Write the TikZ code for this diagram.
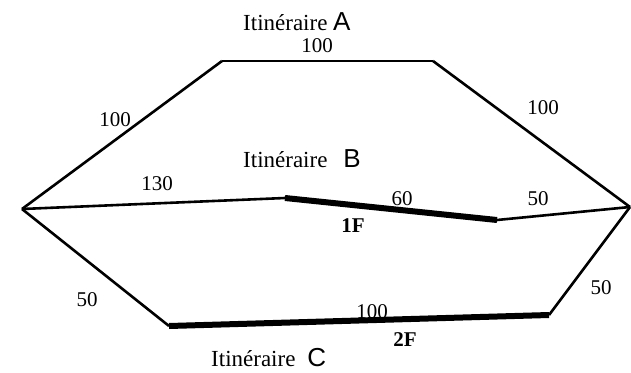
\documentclass[tikz,border=0pt]{standalone}
\usepackage{fontspec}
\setmainfont{Liberation Serif}
\newfontfamily\routefont{Liberation Sans}
\usetikzlibrary{positioning}

\tikzset{
  route/.style={line width=2.6pt},
  fast/.style={line width=6pt},
  dist/.style={font=\fontsize{21}{24}\selectfont, inner sep=0pt, anchor=base},
  penalty/.style={font=\fontsize{21}{24}\selectfont\bfseries, inner sep=0pt, anchor=base},
  itin/.style={font=\fontsize{23}{26}\selectfont, inner sep=0pt, anchor=base west}
}
\newcommand{\routeletter}[1]{{\routefont\fontsize{26}{28}\selectfont #1}}

\begin{document}
\begin{tikzpicture}[x=1pt, y=-1pt]
  \useasboundingbox (0,0) rectangle (631,372);

  % vertices
  \coordinate (L)  at (22,209);
  \coordinate (R)  at (630,207);
  \coordinate (A1) at (222,61);
  \coordinate (A2) at (433,61);
  \coordinate (B1) at (285,198);
  \coordinate (B2) at (497,220);
  \coordinate (C1) at (169,326);
  \coordinate (C2) at (549,315);

  % routes
  \path[route] (L) edge (A1)
               (A1) edge (A2)
               (A2) edge (R)
               (L) edge (B1)
               (B2) edge (R)
               (L) edge (C1)
               (C2) edge (R);
  \path[fast]  (B1) edge (B2)
               (C1) edge (C2);

  % labels
  \node[itin] (nA) at (243,30) {Itinéraire \routeletter{A}};
  \node[itin] (nB) at (243,167) {Itinéraire\hspace{16pt}\routeletter{B}};
  \node[itin] (nC) at (211,366) {Itinéraire\hspace{12pt}\routeletter{C}};

  \node[dist] (dA2) at (317,52) {100};
  \node[dist] (dA1) at (115,126) {100};
  \node[dist] (dA3) at (543,114) {100};
  \node[dist] (dB1) at (157,190) {130};
  \node[dist] (dB2) at (402,205) {60};
  \node[dist] (dB3) at (538,205) {50};
  \node[dist] (dC1) at (87,306) {50};
  \node[dist] (dC2) at (372,318) {100};
  \node[dist] (dC3) at (601,294) {50};

  \node[penalty] (f1) at (353,232) {1F};
  \node[penalty] (f2) at (405,346) {2F};
\end{tikzpicture}
\end{document}
